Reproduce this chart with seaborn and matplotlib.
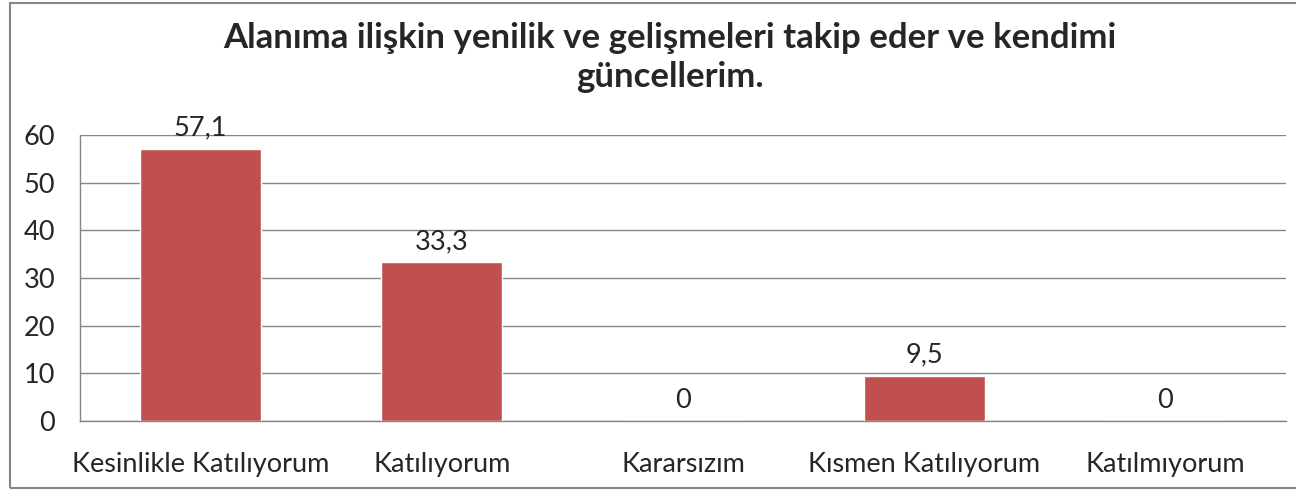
import matplotlib
matplotlib.use("Agg")
import seaborn as sns
import matplotlib.pyplot as plt
from matplotlib.patches import Rectangle

categories = ["Kesinlikle Katılıyorum", "Katılıyorum", "Kararsızım",
              "Kısmen Katılıyorum", "Katılmıyorum"]
values = [57.1, 33.3, 0, 9.5, 0]
title = "Alanıma ilişkin yenilik ve gelişmeleri takip eder ve kendimi\ngüncellerim."

sns.set_style("white")
plt.rcParams['font.family'] = ['Lato', 'DejaVu Sans']

fig = plt.figure(figsize=(12.96, 4.91), dpi=100, facecolor="w")
ax = fig.add_axes([0.0617, 0.1426, 0.9306, 0.5824])

sns.barplot(x=categories, y=values, color="#C0504D", saturation=1,
            width=0.5, ax=ax, zorder=3)

for c in ax.containers:
    ax.bar_label(c, labels=[("%g" % v).replace(".", ",") for v in values],
                 padding=6, fontsize=19.5)

ax.set_ylim(0, 60)
ax.set_yticks(range(0, 61, 10))
ax.set_xlim(-0.5, len(categories) - 0.5)
ax.yaxis.grid(True, color="#868686", linewidth=1, zorder=0)
ax.set_axisbelow(True)

# tick marks at category boundaries, labels centered
ax.set_xticks([i - 0.5 for i in range(len(categories) + 1)], minor=False)
ax.set_xticklabels([])
ax.set_xticks(range(len(categories)), minor=True)
ax.set_xticklabels(categories, minor=True, fontsize=19.5)
ax.tick_params(axis="x", which="major", length=7, color="#868686", width=1,
               direction="out")
ax.tick_params(axis="x", which="minor", length=0, pad=22)
ax.tick_params(axis="y", length=7, color="#868686", width=1, labelsize=19.5,
               direction="out", pad=11)

for s in ["top", "right"]:
    ax.spines[s].set_visible(False)
for s in ["left", "bottom"]:
    ax.spines[s].set_color("#868686")
    ax.spines[s].set_linewidth(1)

fig.text(0.517, 0.955, title, ha="center", va="top", fontsize=25,
         fontweight="bold", linespacing=1.25)

fig.patches.append(Rectangle((10 / 1296, 3 / 491), 1300 / 1296, 485 / 491,
                             transform=fig.transFigure, fill=False,
                             edgecolor="#868686", linewidth=1.5))

plt.savefig("out.png", dpi=100)
